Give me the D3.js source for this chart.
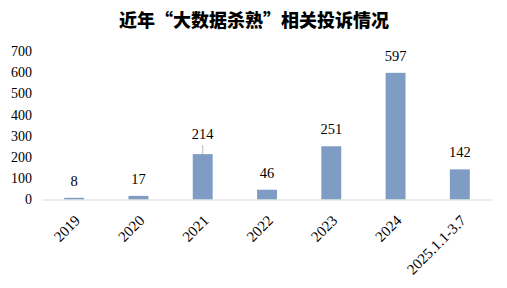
<!DOCTYPE html>
<html>
<head>
<meta charset="utf-8">
<script src="https://cdn.jsdelivr.net/npm/d3@7"></script>
<style>
  body { margin: 0; background: #fff; }
  svg { display: block; }
</style>
</head>
<body>
<svg id="chart"></svg>
<script>
// data
const categories = ["2019", "2020", "2021", "2022", "2023", "2024", "2025.1.1-3.7"];
const complaints = [8, 17, 214, 46, 251, 597, 142];
const yTicks = [0, 100, 200, 300, 400, 500, 600, 700];
const titleText = "近年“大数据杀熟”相关投诉情况";

const width = 507;
const height = 288;
const margin = { top: 51, right: 15, bottom: 88.5, left: 42 };

const svg = d3.select("#chart")
    .attr("width", width)
    .attr("height", height);

svg.append("text")
    .attr("x", 254)
    .attr("y", 27)
    .attr("text-anchor", "middle")
    .style("font-family", "'Noto Sans CJK SC', sans-serif")
    .style("font-weight", 900)
    .style("font-size", "18px")
    .style("fill", "#000")
    .text(titleText);

const scaleX = d3.scaleBand()
    .domain(categories)
    .range([margin.left, width - margin.right])
    .paddingInner(0.69)
    .paddingOuter(0.345);

const scaleY = d3.scaleLinear()
    .domain([0, 700])
    .range([height - margin.bottom, margin.top]);

const serif = "'Liberation Serif', 'Times New Roman', serif";

// y axis labels only, no line
const gY = svg.append("g")
    .attr("transform", `translate(${margin.left}, 0)`)
    .call(d3.axisLeft(scaleY).tickValues(yTicks).tickSize(0).tickPadding(10));
gY.select(".domain").remove();
gY.selectAll("text")
    .style("font-family", serif)
    .style("font-size", "14px")
    .style("fill", "#000");

// bars
svg.append("g")
    .selectAll("rect")
    .data(complaints)
    .enter()
    .append("rect")
    .attr("x", (d, i) => scaleX(categories[i]))
    .attr("y", d => scaleY(d))
    .attr("width", scaleX.bandwidth())
    .attr("height", d => scaleY(0) - scaleY(d))
    .attr("fill", "#7f9dc4");

// x axis
const gX = svg.append("g")
    .attr("transform", `translate(0, ${scaleY(0)})`)
    .call(d3.axisBottom(scaleX).tickSize(0).tickSizeOuter(0));
gX.select(".domain").attr("stroke", "#d9d9d9").attr("stroke-width", 1);
gX.selectAll("text")
    .style("font-family", serif)
    .style("font-size", "15px")
    .style("fill", "#000")
    .style("text-anchor", "end")
    .attr("dx", "0")
    .attr("dy", "0")
    .attr("y", 0)
    .attr("transform", "translate(7, 22) rotate(-45)");

// value labels; the 2021 label sits higher with a leader line
const liftedLabel = "2021";
const labels = svg.append("g");
complaints.forEach((v, i) => {
    const cx = scaleX(categories[i]) + scaleX.bandwidth() / 2;
    const lifted = categories[i] === liftedLabel;
    const yTop = scaleY(v);
    const ty = lifted ? yTop - 15 : yTop - 12;
    labels.append("text")
        .attr("x", cx)
        .attr("y", ty)
        .attr("text-anchor", "middle")
        .style("font-family", serif)
        .style("font-size", "14.5px")
        .style("fill", "#000")
        .text(v);
    if (lifted) {
        labels.append("line")
            .attr("x1", cx).attr("x2", cx)
            .attr("y1", ty + 6).attr("y2", yTop)
            .attr("stroke", "#a6a6a6")
            .attr("stroke-width", 0.8);
    }
});
</script>
</body>
</html>
